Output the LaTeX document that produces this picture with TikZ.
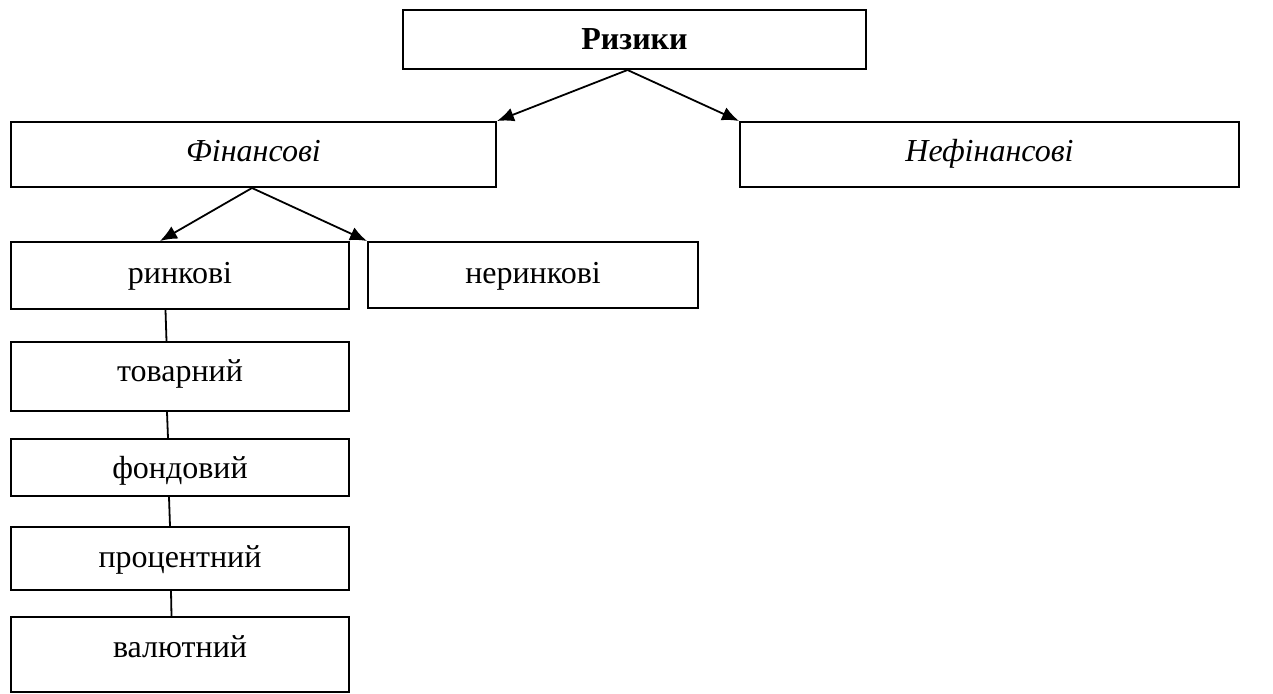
\documentclass[tikz,border=0pt]{standalone}
\usepackage{fontspec}
\setmainfont{Liberation Serif}
\usetikzlibrary{arrows.meta,calc}
\begin{document}
\begin{tikzpicture}[x=1pt,y=-1pt,
  box/.style={draw,line width=2pt,inner sep=0pt,font=\fontsize{32}{36}\selectfont,text depth=0pt},
  arr/.style={line width=1.8pt,-{Latex[length=17pt,width=14pt]}},
  con/.style={line width=1.8pt}]
\useasboundingbox (0,0) rectangle (1273,693);
\node[box,minimum width=463pt,minimum height=59pt,text height=21pt,font=\fontsize{32}{36}\selectfont\bfseries] (riz) at (634.5,39.5) {Ризики};
\node[box,minimum width=485pt,minimum height=65pt,text height=14.4pt,font=\fontsize{32}{36}\selectfont\itshape] (fin) at (253.5,154.5) {Фінансові};
\node[box,minimum width=499pt,minimum height=65pt,text height=14.4pt,font=\fontsize{32}{36}\selectfont\itshape] (nefin) at (989.5,154.5) {Нефінансові};
\node[box,minimum width=338pt,minimum height=67pt,text height=15pt] (rynk) at (180,275.5) {ринкові};
\node[box,minimum width=330pt,minimum height=66pt,text height=16pt] (nerynk) at (533,275) {неринкові};
\node[box,minimum width=338pt,minimum height=69pt,text height=10.4pt] (tov) at (180,376.5) {товарний};
\node[box,minimum width=338pt,minimum height=57pt,text height=21pt] (fond) at (180,467.5) {фондовий};
\node[box,minimum width=338pt,minimum height=63pt,text height=17pt] (proc) at (180,558.5) {процентний};
\node[box,minimum width=338pt,minimum height=75pt,text height=5pt] (val) at (180,654.5) {валютний};
\draw[arr] ($(riz.south)+(-7,0)$) -- (fin.north east);
\draw[arr] ($(riz.south)+(-7,0)$) -- (nefin.north west);
\draw[arr] ($(fin.south)+(-1.5,0)$) -- ($(rynk.north)+(-20,0)$);
\draw[arr] ($(fin.south)+(-1.5,0)$) -- (nerynk.north west);
\draw[con] ($(rynk.south)+(-14.5,0)$) -- ($(tov.north)+(-13.5,0)$);
\draw[con] ($(tov.south)+(-13,0)$) -- ($(fond.north)+(-12,0)$);
\draw[con] ($(fond.south)+(-11,0)$) -- ($(proc.north)+(-10,0)$);
\draw[con] ($(proc.south)+(-9,0)$) -- ($(val.north)+(-8.5,0)$);
\end{tikzpicture}
\end{document}
